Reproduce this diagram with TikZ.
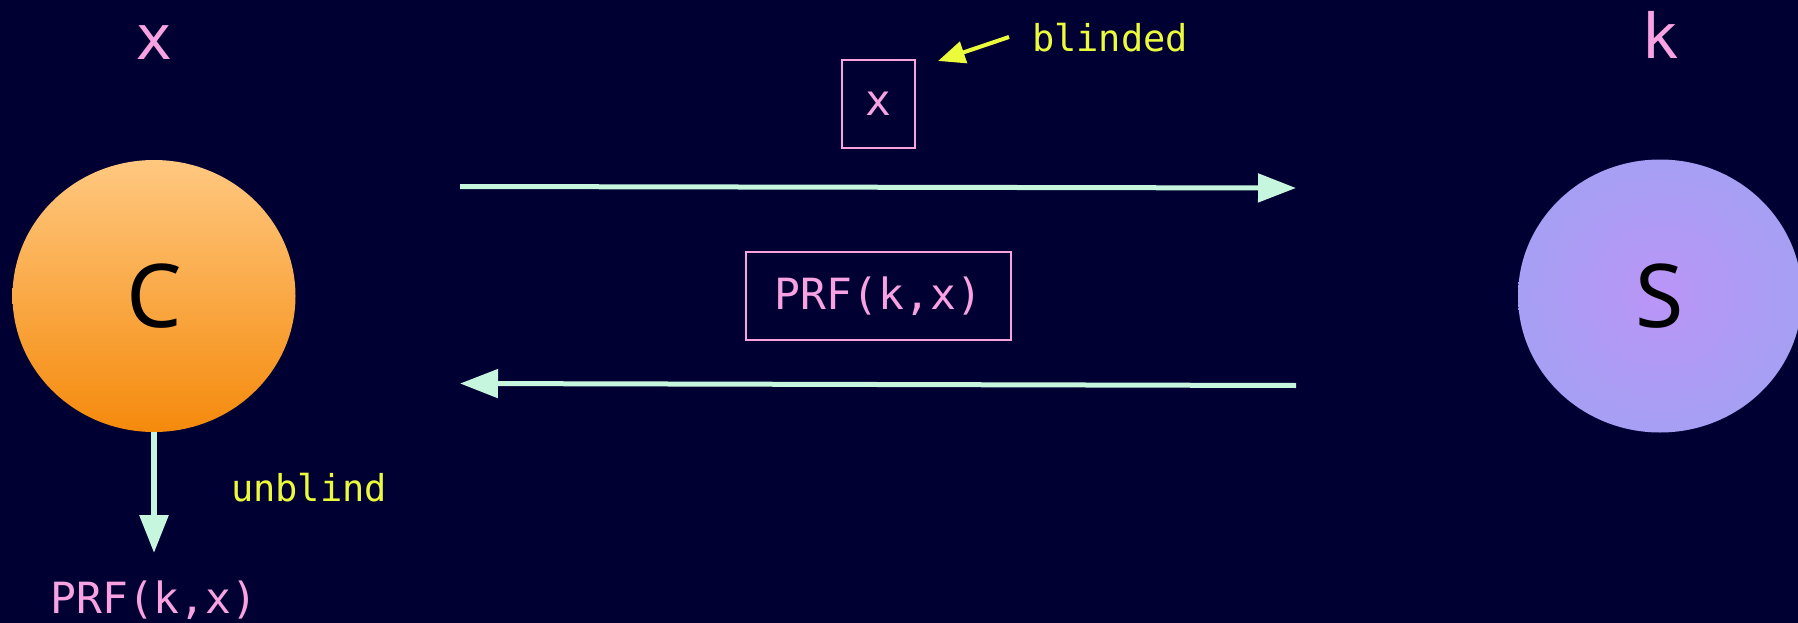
\documentclass[tikz,border=0pt]{standalone}
\usepackage{fontspec}
\setmonofont{DejaVu Sans Mono}
\newfontfamily\bigsans{Noto Sans}
\usetikzlibrary{shapes.geometric,arrows.meta}
\definecolor{bgcol}{HTML}{000033}
\definecolor{pinkc}{HTML}{F8A2E2}
\definecolor{yellowc}{HTML}{ECFA3C}
\definecolor{mintc}{HTML}{C6F6DD}
\definecolor{orangetop}{HTML}{FFC880}
\definecolor{orangebot}{HTML}{F58A0C}
\definecolor{spurple}{HTML}{BA95F7}
\definecolor{sblue}{HTML}{91AAF0}
\pgfdeclareradialshading{sball}{\pgfpoint{0bp}{0bp}}{color(0bp)=(spurple); color(50bp)=(sblue)}
\tikzset{
  party/.style={ellipse, inner sep=0pt, font=\bigsans\fontsize{88}{96}\selectfont, text=black},
  msgbox/.style={draw=pinkc, line width=2pt, inner sep=0pt, text=pinkc, font=\ttfamily\fontsize{43}{48}\selectfont},
  pinklbl/.style={text=pinkc, inner sep=0pt, anchor=base},
  yellbl/.style={text=yellowc, inner sep=0pt, anchor=base, font=\ttfamily\fontsize{37}{42}\selectfont},
  flow/.style={draw=mintc, line width=5pt, -{Triangle[length=38pt,width=28pt]}},
  note/.style={draw=yellowc, line width=4pt, -{Triangle[length=27pt,width=22pt]}}
}
\begin{document}
\begin{tikzpicture}[x=1pt,y=-1pt]
\fill[bgcol] (0,0) rectangle (1798,623);
\useasboundingbox (0,0) rectangle (1798,623);
% parties
\node[party, minimum width=283pt, minimum height=272pt, top color=orangetop, bottom color=orangebot] (C) at (154,296) {C};
\node[party, minimum width=284pt, minimum height=273pt, shading=sball] (S) at (1660,296) {S};
% secrets
\node[pinklbl, font=\ttfamily\fontsize{62}{70}\selectfont] (xin) at (154,60) {x};
\node[pinklbl, font=\ttfamily\fontsize{62}{70}\selectfont] (kin) at (1660,59) {k};
% messages
\node[msgbox, minimum width=73pt, minimum height=88pt] (bx) at (878.5,104) {x};
\node[msgbox, minimum width=265pt, minimum height=88pt] (prf) at (878.5,296) {PRF(k,x)};
% flows
\coordinate (req0) at (460,186.5);
\coordinate (req1) at (1296,188);
\coordinate (resp0) at (1296,385.5);
\coordinate (resp1) at (460,383.5);
\draw[flow] (req0) -- (req1);
\draw[flow] (resp0) -- (resp1);
% blinded note
\node[yellbl] (bl) at (1110,52) {blinded};
\coordinate (bl0) at (1009,37);
\coordinate (bl1) at (938,61);
\draw[note] (bl0) -- (bl1);
% unblind
\coordinate (down1) at (154,553);
\draw[flow, line width=6pt] (C.south) -- (down1);
\node[yellbl] (ub) at (309,501) {unblind};
\node[pinklbl, font=\ttfamily\fontsize{43}{48}\selectfont] (out) at (154,613) {PRF(k,x)};
\end{tikzpicture}
\end{document}
